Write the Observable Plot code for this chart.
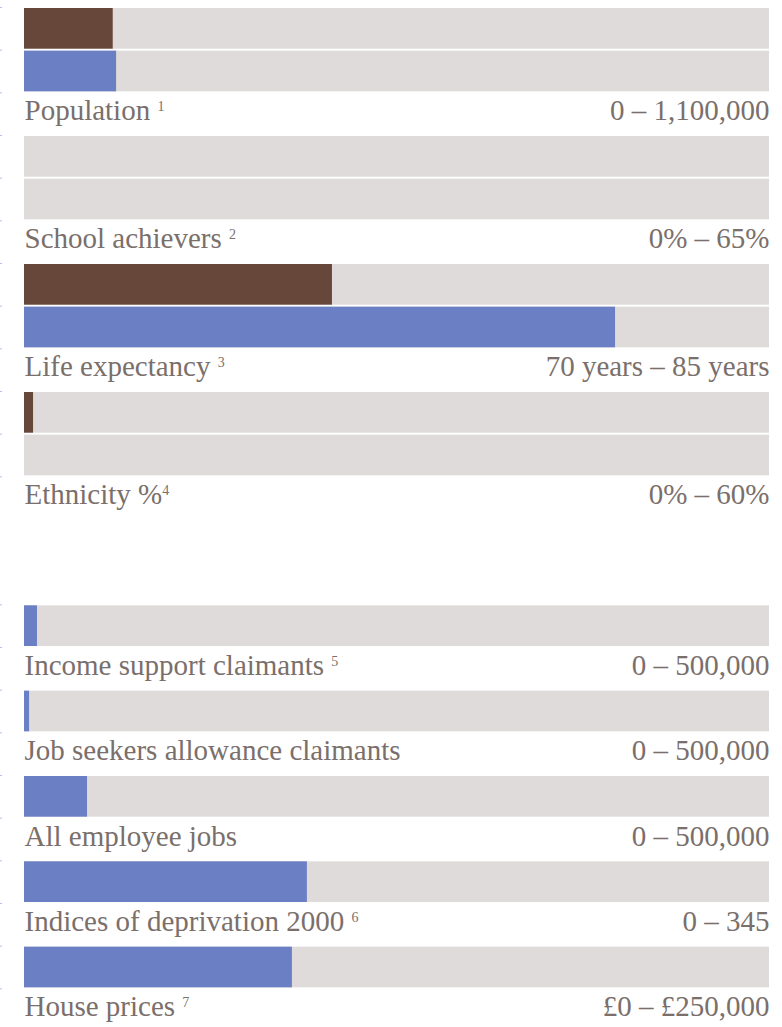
<!DOCTYPE html>
<html>
<head>
<meta charset="utf-8">
<script src="https://cdn.jsdelivr.net/npm/d3@7"></script>
<script src="https://cdn.jsdelivr.net/npm/@observablehq/plot@0.6"></script>
<style>
  body { margin: 0; background: #ffffff; }
</style>
</head>
<body>
<div id="chart"></div>
<script>
// ---- Data ----
const indicators = [
  "Population ",
  "School achievers ",
  "Life expectancy ",
  "Ethnicity %",
  "Income support claimants ",
  "Job seekers allowance claimants",
  "All employee jobs",
  "Indices of deprivation 2000 ",
  "House prices "
];
const footnotes = ["1", "2", "3", "4", "5", "", "", "6", "7"];
const rangeLabels = [
  "0 – 1,100,000",
  "0% – 65%",
  "70 years – 85 years",
  "0% – 60%",
  "0 – 500,000",
  "0 – 500,000",
  "0 – 500,000",
  "0 – 345",
  "£0 – £250,000"
];
const rangeMin = [0, 0, 70, 0, 0, 0, 0, 0, 0];
const rangeMax = [1100000, 65, 85, 60, 500000, 500000, 500000, 345, 250000];
const seriesAValues = [131000, null, 76.2, 0.73, null, null, null, null, null];
const seriesBValues = [136000, null, 81.9, null, 8700, 3400, 42300, 131, 89900];
const pairedCount = 4; // first group shows two series per indicator
const seriesNames = ["Series A", "Series B"];
const seriesColors = ["#674739", "#6a7fc4"];

// ---- Layout table built from the data ----
const bars = [];
const labels = [];
let slot = 0;
indicators.forEach((name, i) => {
  if (i === pairedCount) slot += 2; // gap between the two groups
  const frac = v => v == null ? null : (v - rangeMin[i]) / (rangeMax[i] - rangeMin[i]);
  const series = i < pairedCount
    ? [[seriesNames[0], seriesAValues[i]], [seriesNames[1], seriesBValues[i]]]
    : [[seriesNames[1], seriesBValues[i]]];
  for (const [s, v] of series) {
    bars.push({slot, series: s, value: frac(v)});
    slot++;
  }
  labels.push({slot, name, note: footnotes[i], range: rangeLabels[i]});
  slot++;
});
const slots = d3.range(slot);
const tickSlots = [...bars.map(d => d.slot), ...labels.map(d => d.slot)].sort((a, b) => a - b);

const textColor = "#7a6f6b";
const font = "'Liberation Serif', 'DejaVu Serif', serif";
const bandTop = 7, bandBottom = 1031;
const bw = (bandBottom - bandTop) / slots.length;

const plot = Plot.plot({
  width: 782,
  height: 1027,
  marginLeft: 24,
  marginRight: 13,
  marginTop: 0,
  marginBottom: 0,
  style: {fontFamily: font, background: "#ffffff"},
  x: {domain: [0, 1], axis: null},
  y: {type: "band", domain: slots, range: [bandTop, bandBottom], padding: 0, round: false, axis: null, label: null},
  color: {type: "ordinal", domain: seriesNames, range: seriesColors},
  marks: [
    Plot.barX(bars, {y: "slot", x1: 0, x2: 1, fill: "#dedbda", insetTop: 1, insetBottom: 1}),
    Plot.barX(bars.filter(d => d.value != null && d.value > 0), {
      y: "slot", x1: 0, x2: "value", fill: "series", insetTop: 1, insetBottom: 1
    }),
    Plot.text(labels, {
      y: "slot", x: 0, text: "name", textAnchor: "start", lineAnchor: "bottom",
      dy: 6, fontSize: 29, fill: textColor
    }),
    Plot.text(labels, {
      y: "slot", x: 1, text: "range", textAnchor: "end", lineAnchor: "bottom",
      dy: 6, fontSize: 29, fill: textColor
    }),
    Plot.axisY(tickSlots, {
      anchor: "left", tickSize: 2, tickFormat: () => "", label: null,
      dx: -22, dy: -bw / 2, stroke: "#b4bdea"
    })
  ]
});

// footnote superscripts
const noteByName = new Map(labels.map(d => [d.name.trim(), d.note]));
d3.select(plot).selectAll("text").each(function() {
  const note = noteByName.get(this.textContent.trim());
  if (note) {
    d3.select(this).append("tspan").attr("font-size", 14).attr("dy", -9).text(note);
  }
});

document.getElementById("chart").appendChild(plot);
</script>
</body>
</html>
